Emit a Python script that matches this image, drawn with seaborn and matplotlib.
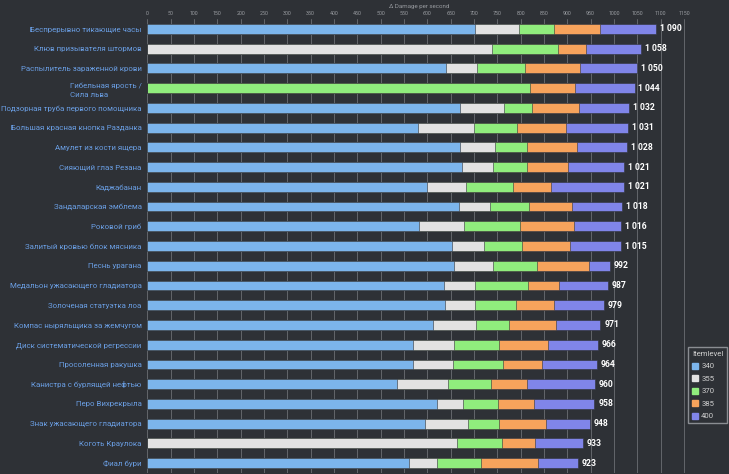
import numpy as np
import pandas as pd
import matplotlib.pyplot as plt
import matplotlib.patches as patches
import seaborn as sns

# Items, top to bottom
items = [
    'Беспрерывно тикающие часы',
    'Клюв призывателя штормов',
    'Распылитель зараженной крови',
    'Гибельная ярость /\nСила льва',
    'Подзорная труба первого помощника',
    'Большая красная кнопка Разданка',
    'Амулет из кости ящера',
    'Сияющий глаз Резана',
    'Каджабанан',
    'Зандаларская эмблема',
    'Роковой гриб',
    'Залитый кровью блок мясника',
    'Песнь урагана',
    'Медальон ужасающего гладиатора',
    'Золоченая статуэтка лоа',
    'Компас ныряльщика за жемчугом',
    'Диск систематической регрессии',
    'Просоленная ракушка',
    'Канистра с бурлящей нефтью',
    'Перо Вихрекрыла',
    'Знак ужасающего гладиатора',
    'Коготь Краулока',
    'Фиал бури',
]

# Δ DPS gained at each item level step (stacked)
lvl340 = [702, 0, 641, 0, 670, 581, 669, 675, 600, 667, 583, 652, 658, 635, 638, 613, 570, 570, 534, 620, 594, 0, 561]
lvl355 = [95, 739, 66, 0, 95, 120, 75, 66, 83, 68, 96, 70, 83, 68, 65, 91, 87, 84, 111, 57, 94, 664, 59]
lvl370 = [75, 142, 103, 819, 60, 92, 70, 73, 100, 83, 119, 80, 95, 113, 87, 72, 97, 109, 91, 75, 66, 97, 96]
lvl385 = [97, 58, 118, 98, 99, 104, 106, 88, 81, 93, 116, 104, 110, 67, 82, 100, 105, 83, 78, 77, 100, 69, 122]
lvl400 = [121, 119, 122, 127, 108, 134, 108, 119, 157, 107, 102, 109, 46, 104, 107, 95, 107, 118, 146, 129, 94, 103, 85]

levels = ['340', '355', '370', '385', '400']
colors = ['#7cb5ec', '#e2e2e2', '#90ed7d', '#f7a35c', '#8085e9']

BG = '#2e3136'
GRID = '#63666b'
TICK = '#9a9da2'

df = pd.DataFrame({'item': items, '340': lvl340, '355': lvl355,
                   '370': lvl370, '385': lvl385, '400': lvl400})
cum = df[levels].cumsum(axis=1)
totals = cum['400'].tolist()

sns.set_style('dark', {'axes.facecolor': BG, 'figure.facecolor': BG})
plt.rcParams['font.family'] = ['Roboto', 'DejaVu Sans']

fig = plt.figure(figsize=(7.29, 4.74), dpi=100)
ax = fig.add_axes([147.3 / 729, 1 / 474, 543.7 / 729, 454 / 474])

# stack by overlaying cumulative totals, longest first
for lvl, col in reversed(list(zip(levels, colors))):
    sns.barplot(x=cum[lvl], y=df['item'], color=col, width=0.5, orient='h',
                saturation=1, errorbar=None, edgecolor=BG, linewidth=0.4, ax=ax)

for i, t in enumerate(totals):
    ax.text(t + 8, i, f'{t:,}'.replace(',', ' '), va='center', ha='left',
            color='white', fontsize=6.2, fontweight='bold')

ax.set_xlim(0, 1165)
ax.set_ylim(len(items) - 0.5, -0.5)

# value axis on top
ax.xaxis.tick_top()
ax.xaxis.set_label_position('top')
ax.set_xticks(np.arange(0, 1151, 50))
ax.tick_params(axis='x', labelsize=3.8, colors=TICK, length=0, pad=2)
ax.set_xlabel('Δ Damage per second', fontsize=4.4, color=TICK, labelpad=2)
ax.set_ylabel('')

ax.grid(axis='x', color=GRID, lw=0.7)
ax.grid(axis='y', visible=False)
ax.set_axisbelow(True)

# category labels and small boundary ticks
ax.tick_params(axis='y', which='major', length=0, labelsize=5.7, labelcolor='#6a9ee3', pad=4)
ax.set_yticks(np.arange(-0.5, len(items), 1), minor=True)
ax.tick_params(axis='y', which='minor', length=3, color='#777a80', width=0.7)
for lab in ax.get_yticklabels():
    if '\n' in lab.get_text():
        lab.set_multialignment('left')
        lab.set_linespacing(1.6)

for s in ax.spines.values():
    s.set_visible(False)

handles = [patches.Patch(color=c, label=l) for l, c in zip(levels, colors)]
leg = fig.legend(handles=handles, title='Itemlevel', loc='upper left',
                 bbox_to_anchor=(688 / 729, 1 - 347 / 474), fontsize=5.6,
                 title_fontsize=5.6, facecolor=BG, edgecolor='#8a8d92',
                 labelcolor='#cfcfcf', handlelength=0.8, handleheight=0.8,
                 handletextpad=0.4, borderpad=0.5, labelspacing=0.75,
                 borderaxespad=0, fancybox=False, alignment='left', framealpha=1)
leg.get_title().set_color('#cfcfcf')

fig.savefig('out.png', dpi=100, facecolor=BG)
